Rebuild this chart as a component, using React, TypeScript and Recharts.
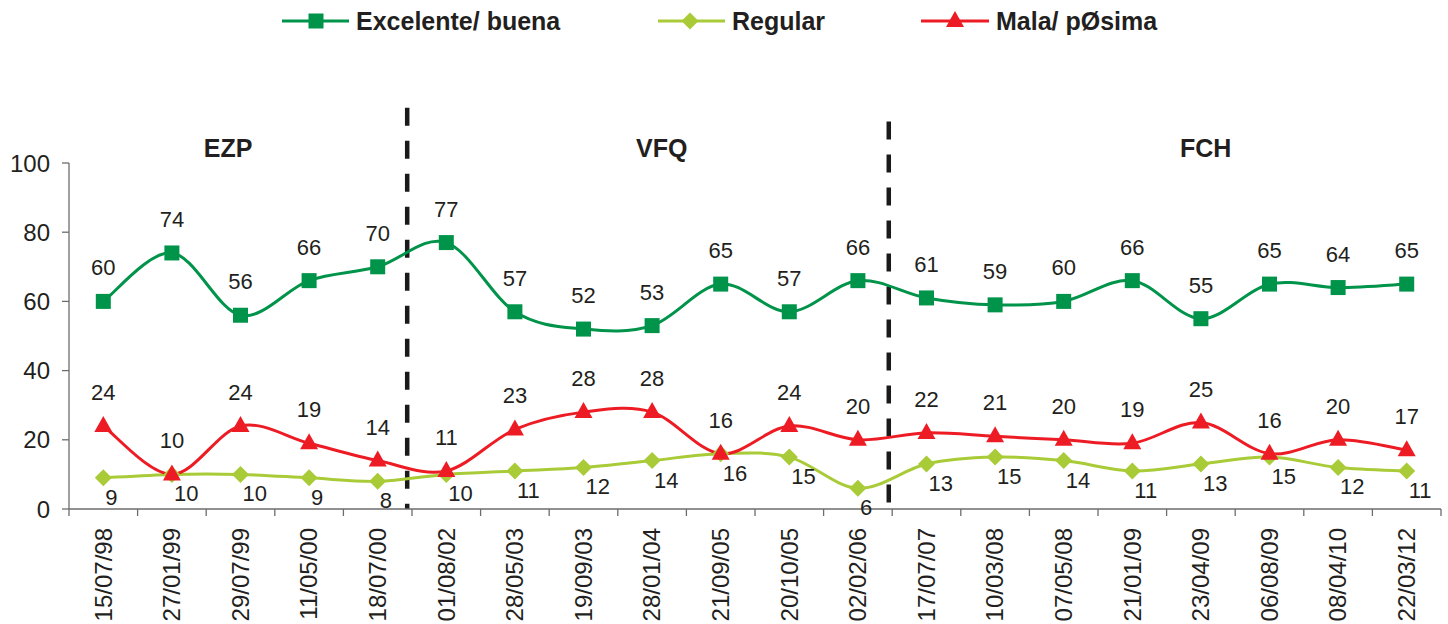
import React from 'react';
import { LineChart, Line, XAxis, YAxis, ReferenceLine, ReferenceDot, LabelList } from 'recharts';

const dates = ['15/07/98', '27/01/99', '29/07/99', '11/05/00', '18/07/00', '01/08/02', '28/05/03', '19/09/03', '28/01/04', '21/09/05', '20/10/05', '02/02/06', '17/07/07', '10/03/08', '07/05/08', '21/01/09', '23/04/09', '06/08/09', '08/04/10', '22/03/12'];
const excelente = [60, 74, 56, 66, 70, 77, 57, 52, 53, 65, 57, 66, 61, 59, 60, 66, 55, 65, 64, 65];
const regular = [9, 10, 10, 9, 8, 10, 11, 12, 14, 16, 15, 6, 13, 15, 14, 11, 13, 15, 12, 11];
const mala = [24, 10, 24, 19, 14, 11, 23, 28, 28, 16, 24, 20, 22, 21, 20, 19, 25, 16, 20, 17];
const yTicks = [0, 20, 40, 60, 80, 100];
const seriesNames = ['Excelente/ buena', 'Regular', 'Mala/ pØsima'];
const periodNames = ['EZP', 'VFQ', 'FCH'];

const data = dates.map((d, i) => ({ x: i, date: d, excelente: excelente[i], regular: regular[i], mala: mala[i] }));

const FONT = '"Liberation Sans", Arial, Helvetica, sans-serif';
const TEXT = '#231F20';
const GREEN = '#00934A';
const LIGHT = '#A9CB37';
const RED = '#ED1C24';
const AXIS = '#6d6d6d';

const W = 1448;
const H = 624;
const M = { top: 163, right: 7, left: 0, bottom: 0 };
const YW = 69;
const XH = 115;
const PLOT_W = W - M.right - YW;
const HALF_BAND = PLOT_W / dates.length / 2;

const xTicks = Array.from({ length: dates.length + 1 }, (_, i) => i - 0.5);

// Excel-like smoothing (Catmull-Rom style bezier)
const smoothCurve: any = (context: any) => {
  let pts: number[][] = [];
  return {
    areaStart() {},
    areaEnd() {},
    lineStart() { pts = []; },
    point(x: number, y: number) { pts.push([+x, +y]); },
    lineEnd() {
      if (!pts.length) return;
      context.moveTo(pts[0][0], pts[0][1]);
      for (let i = 0; i < pts.length - 1; i++) {
        const p0 = pts[i - 1] || pts[i];
        const p1 = pts[i];
        const p2 = pts[i + 1];
        const p3 = pts[i + 2] || p2;
        const k = 1 / 6;
        context.bezierCurveTo(
          p1[0] + (p2[0] - p0[0]) * k, p1[1] + (p2[1] - p0[1]) * k,
          p2[0] - (p3[0] - p1[0]) * k, p2[1] - (p3[1] - p1[1]) * k,
          p2[0], p2[1]
        );
      }
    },
  };
};

const DateTick = (props: any) => {
  const { x, y, payload } = props;
  const idx = Math.round(payload.value + 0.5);
  if (idx < 0 || idx >= dates.length) return <g />;
  const cx = x + HALF_BAND;
  return (
    <text x={cx} y={y} dy="0.35em" textAnchor="end" transform={`rotate(-90, ${cx}, ${y})`}
      fontSize={24} fontFamily={FONT} fill={TEXT}>
      {dates[idx]}
    </text>
  );
};

const square = (color: string) => (p: any) => (
  <rect key={p.key} x={p.cx - 7.5} y={p.cy - 7.5} width={15} height={15} fill={color} />
);
const diamond = (color: string) => (p: any) => (
  <path key={p.key} d={`M${p.cx},${p.cy - 8.5}L${p.cx + 8.5},${p.cy}L${p.cx},${p.cy + 8.5}L${p.cx - 8.5},${p.cy}Z`} fill={color} />
);
const triangle = (color: string) => (p: any) => (
  <path key={p.key} d={`M${p.cx},${p.cy - 10}L${p.cx + 9},${p.cy + 6}L${p.cx - 9},${p.cy + 6}Z`} fill={color} />
);

const aboveLabel = (p: any) => (
  <text x={p.x} y={p.y - 26} textAnchor="middle" fontSize={22} fontFamily={FONT} fill={TEXT}>{p.value}</text>
);
const belowLabel = (p: any) => (
  <text x={p.x + 2} y={p.y + 27} textAnchor="start" fontSize={22} fontFamily={FONT} fill={TEXT}>{p.value}</text>
);

const periodLabel = (name: string) => (p: any) => {
  const vb = p.viewBox || {};
  const cx = (vb.x || 0) + (vb.width || 0) / 2;
  const cy = (vb.y || 0) + (vb.height || 0) / 2;
  return (
    <text x={cx} y={cy} dy="0.35em" textAnchor="middle" fontSize={25} fontWeight="bold" fontFamily={FONT} fill={TEXT}>{name}</text>
  );
};

const Legend = () => (
  <svg width={W} height={45} style={{ position: 'absolute', left: 0, top: 0 }}>
    <g>
      <line x1={282} x2={349} y1={21} y2={21} stroke={GREEN} strokeWidth={3} />
      <rect x={308.5} y={13.5} width={15} height={15} fill={GREEN} />
      <text x={356} y={30} fontSize={25} fontWeight="bold" fontFamily={FONT} fill={TEXT}>{seriesNames[0]}</text>
    </g>
    <g>
      <line x1={658} x2={725} y1={21} y2={21} stroke={LIGHT} strokeWidth={3} />
      <path d="M690,12.5L698.5,21L690,29.5L681.5,21Z" fill={LIGHT} />
      <text x={732} y={30} fontSize={25} fontWeight="bold" fontFamily={FONT} fill={TEXT}>{seriesNames[1]}</text>
    </g>
    <g>
      <line x1={921} x2={989} y1={21} y2={21} stroke={RED} strokeWidth={3} />
      <path d="M955,11L964,27L946,27Z" fill={RED} />
      <text x={996} y={30} fontSize={25} fontWeight="bold" fontFamily={FONT} fill={TEXT}>{seriesNames[2]}</text>
    </g>
  </svg>
);

export default function App() {
  return (
    <div style={{ position: 'absolute', left: 0, top: 0, width: W, height: H, background: '#fff' }}>
      <LineChart width={W} height={H} data={data} margin={M}>
        <XAxis dataKey="x" type="number" domain={[-0.5, dates.length - 0.5]} ticks={xTicks} interval={0}
          tick={<DateTick />} tickSize={7} tickMargin={12} height={XH}
          stroke={AXIS} strokeWidth={1.3} allowDataOverflow />
        <YAxis type="number" domain={[0, 100]} ticks={yTicks} interval={0} width={YW} tickSize={7} tickMargin={12}
          stroke={AXIS} strokeWidth={1.3}
          tick={{ fontSize: 24, fontFamily: FONT, fill: TEXT }} />
        <ReferenceLine segment={[{ x: 4.43, y: 116 }, { x: 4.43, y: 0 }]} stroke="#1a1a1a" strokeWidth={4.5}
          strokeDasharray="18 15" ifOverflow="visible" />
        <ReferenceLine segment={[{ x: 11.45, y: 112 }, { x: 11.45, y: 0 }]} stroke="#1a1a1a" strokeWidth={4.5}
          strokeDasharray="18 15" ifOverflow="visible" />
        <ReferenceDot x={1.82} y={104.3} r={0} fill="none" stroke="none" ifOverflow="visible" label={periodLabel(periodNames[0])} />
        <ReferenceDot x={8.14} y={104.3} r={0} fill="none" stroke="none" ifOverflow="visible" label={periodLabel(periodNames[1])} />
        <ReferenceDot x={16.07} y={104.3} r={0} fill="none" stroke="none" ifOverflow="visible" label={periodLabel(periodNames[2])} />
        <Line dataKey="regular" name={seriesNames[1]} type={smoothCurve} stroke={LIGHT} strokeWidth={3}
          dot={diamond(LIGHT)} activeDot={false} isAnimationActive={false}>
          <LabelList dataKey="regular" content={belowLabel} />
        </Line>
        <Line dataKey="mala" name={seriesNames[2]} type={smoothCurve} stroke={RED} strokeWidth={3}
          dot={triangle(RED)} activeDot={false} isAnimationActive={false}>
          <LabelList dataKey="mala" content={aboveLabel} />
        </Line>
        <Line dataKey="excelente" name={seriesNames[0]} type={smoothCurve} stroke={GREEN} strokeWidth={3}
          dot={square(GREEN)} activeDot={false} isAnimationActive={false}>
          <LabelList dataKey="excelente" content={aboveLabel} />
        </Line>
      </LineChart>
      <Legend />
    </div>
  );
}
